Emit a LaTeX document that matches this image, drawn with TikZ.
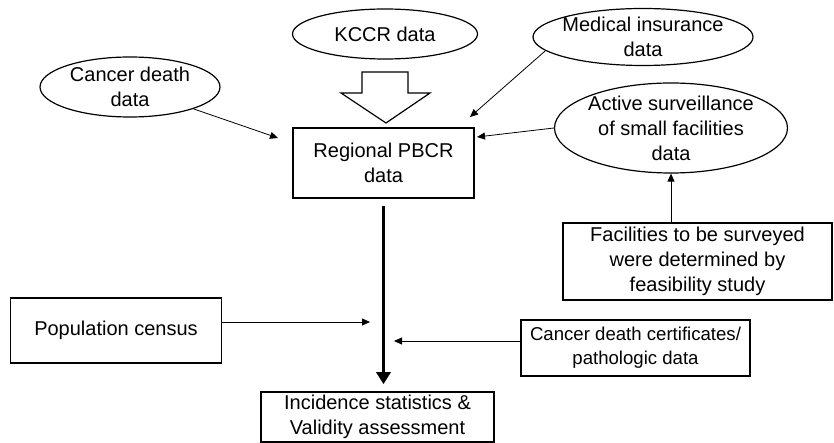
\documentclass[tikz,border=0pt]{standalone}
\usepackage{fontspec}
\setmainfont{Liberation Sans}
\usepackage{tikz}
\usetikzlibrary{arrows.meta,shapes.geometric}

\begin{document}
\begin{tikzpicture}[x=0.5pt,y=-0.5pt,
  font=\fontsize{10}{12.5}\selectfont,
  src/.style={draw,ellipse,line width=0.6pt,inner sep=0pt,align=center},
  blk/.style={draw,rectangle,line width=0.8pt,inner sep=0pt,align=center},
  flow/.style={-{Triangle[length=4pt,width=3.5pt]},line width=0.4pt}]
\useasboundingbox (0,0) rectangle (834,443);
% data sources
\node[src,minimum width=92.5pt,minimum height=25pt] (kccr) at (385,34) {KCCR data};
\node[src,minimum width=90pt,minimum height=30pt,inner sep=-1pt] (cdeath) at (130,87) {Cancer death\\data};
\node[src,minimum width=110pt,minimum height=28.5pt,inner sep=-1.5pt] (medins) at (643,37) {Medical insurance\\data};
\node[src,minimum width=116.5pt,minimum height=45pt,inner sep=-2pt] (active) at (671,128) {Active surveillance\\of small facilities\\data};
% boxes
\node[blk,minimum width=90.5pt,minimum height=35pt] (pbcr) at (383.5,163) {Regional PBCR\\data};
\node[blk,minimum width=134.5pt,minimum height=38.5pt] (facil) at (697.5,261.5) {Facilities to be surveyed\\were determined by\\feasibility study};
\node[blk,minimum width=105.5pt,minimum height=32.5pt] (popc) at (116,330.5) {Population census};
\node[blk,minimum width=114.5pt,minimum height=28pt,font=\fontsize{9.3}{12}\selectfont] (cert) at (635.5,348) {Cancer death certificates/\\pathologic data};
\node[blk,minimum width=116.5pt,minimum height=25pt] (incid) at (377.5,417) {Incidence statistics \&\\Validity assessment};
% block arrow from KCCR
\draw[line width=0.6pt] (362,72) -- (408,72) -- (408,93) -- (430,93) -- (386,123)
  -- (341,93) -- (362,93) -- cycle;
% free ends
\coordinate (cdin) at (278,138);
\coordinate (mdin) at (470,117);
\coordinate (acin) at (477,137);
\coordinate (popin) at (370,322);
\coordinate (certin) at (394,341);
% connectors
\draw[flow] (cdeath) -- (cdin);
\draw[flow] (medins.188) -- (mdin);
\draw[flow] (active.west) -- (acin);
\draw[flow] (facil.north -| active) -- (active.south);
\draw[flow] (popc.east |- popin) -- (popin);
\draw[flow] (cert.west |- certin) -- (certin);
\draw[-{Triangle[length=6pt,width=7pt]},line width=1.5pt,shorten <=3.5pt,shorten >=3.5pt]
  (pbcr.south) -- (pbcr.south |- incid.north);
\end{tikzpicture}
\end{document}
